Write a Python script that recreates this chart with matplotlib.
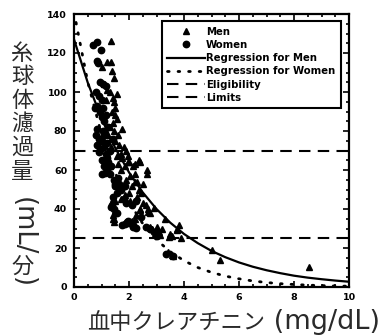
import matplotlib
matplotlib.use("Agg")
import matplotlib.pyplot as plt
from matplotlib.ticker import MultipleLocator

# ---------------- data ----------------
men_x = [1.33, 1.19, 1.33, 1.37, 1.47, 1.00, 1.55, 1.45, 1.50, 1.38, 1.20, 1.30, 1.10,
         1.50, 1.55, 1.76, 1.40, 1.30, 1.45, 1.60, 1.20, 1.35, 1.50, 1.65, 1.80, 1.90,
         1.70, 1.96, 2.00, 2.36, 2.20, 2.64, 2.66, 2.20, 1.85, 1.60, 1.70, 2.05, 2.30,
         2.10, 2.45, 2.30, 2.50, 2.60, 2.70, 2.75, 2.90, 2.40, 2.25, 2.20, 2.10, 1.85,
         1.70, 1.40, 1.50, 1.45, 1.45, 1.50, 3.00, 2.85, 3.10, 2.95, 3.20, 3.30, 3.50,
         3.45, 3.55, 3.75, 3.80, 3.75, 3.90, 3.40, 3.55, 3.60, 5.00, 5.30, 8.55, 2.05,
         2.35, 1.90, 2.50, 2.15, 1.75, 2.00, 1.60, 1.30, 1.55, 1.25, 1.35, 1.98, 2.40,
         2.22, 2.40, 2.70, 2.76, 3.13, 1.43, 1.43, 1.15, 1.40]
men_y = [126, 115.5, 115.5, 111, 107, 113, 99, 95, 92, 90, 101, 100, 104,
         88, 86, 81, 84, 82, 80, 78, 78, 76, 75, 73, 72, 70,
         68, 67, 64, 65, 63, 60, 58, 58, 62, 63, 60, 57, 54,
         52, 48, 46, 43, 42, 40, 38, 40.5, 40, 37, 35, 34, 47,
         45, 45, 44, 35, 33.5, 39, 31, 30, 28, 27, 30, 35, 27,
         25.5, 26, 30, 32, 29, 25, 18, 16.5, 16, 19, 14, 10.5, 44,
         50, 55, 53, 62, 66, 48, 52, 62, 67, 70, 72, 64, 64,
         54, 39.5, 38.6, 31, 26.7, 35, 37, 96, 97]

women_x = [0.68, 0.85, 0.97, 0.82, 0.88, 0.95, 1.05, 1.15, 0.80, 0.90, 1.00, 0.85, 0.75,
           0.95, 1.00, 1.10, 0.85, 0.80, 0.90, 0.85, 0.95, 0.90, 1.00, 1.05, 1.10, 1.20,
           1.15, 1.20, 1.25, 1.10, 1.35, 1.30, 1.00, 1.45, 1.50, 1.65, 1.70, 1.55, 1.40,
           1.80, 1.90, 1.35, 1.45, 1.55, 1.75, 1.85, 2.00, 2.15, 2.25, 1.95, 2.10, 2.25,
           2.60, 2.75, 2.90, 3.00, 3.60, 3.35, 1.60, 1.20, 1.30, 1.10, 1.25, 1.40, 1.00,
           1.15, 1.05, 1.13, 1.49, 1.37, 1.85, 1.92, 2.16, 2.45]
women_y = [124, 125.8, 121.5, 116, 114.7, 105, 104, 103, 100, 98, 96, 93, 92,
           90, 87, 85, 81, 78, 76, 73, 71, 69, 75, 80, 72, 74,
           68, 66, 64, 62, 62, 58, 58, 55, 52, 53, 50, 48, 46,
           45, 43, 41, 40, 38, 32, 32.5, 33, 31, 30.5, 34, 42, 44,
           31, 30, 28, 26, 16, 17, 56, 60, 70, 78, 82, 76, 65,
           88, 92, 58.3, 53, 42, 52, 33.5, 31.8, 36]

# regression curves, values every 0.5 mg/dL
curve_x = [0, 0.5, 1, 1.5, 2, 2.5, 3, 3.5, 4, 4.5, 5, 5.5, 6, 6.5, 7, 7.5, 8, 8.5, 9, 9.5, 10]
reg_men_y = [127, 104.8, 86.4, 71.3, 58.8, 48.5, 40.0, 33.0, 27.2, 22.5, 18.5, 15.3, 12.6,
             10.4, 8.6, 7.1, 5.8, 4.8, 4.0, 3.3, 2.7]
reg_women_y = [141, 105.1, 78.4, 58.5, 43.6, 32.5, 24.2, 18.1, 13.5, 10.0, 7.5, 5.6, 4.2,
               3.1, 2.3, 1.7, 1.3, 0.96, 0.72, 0.53, 0.40]

eligibility = 70
limits = 25

x_ticks = [0, 2, 4, 6, 8, 10]
y_ticks = [0, 20, 40, 60, 80, 100, 120, 140]

# ---------------- figure ----------------
W, H = 389, 336
fig = plt.figure(figsize=(W / 100, H / 100), dpi=100)
ax = fig.add_axes([74 / W, 1 - 287 / H, (349 - 74) / W, (287 - 14) / H])

ax.plot(men_x, men_y, linestyle="none", marker="^", ms=4.6, color="black", label="Men", zorder=3)
ax.plot(women_x, women_y, linestyle="none", marker="o", ms=4.6, color="black", label="Women", zorder=3)
ax.plot(curve_x, reg_men_y, color="black", lw=1.6, label="Regression for Men", zorder=2)
ax.plot(curve_x, reg_women_y, color="black", lw=2.0, linestyle=(0, (0.6, 3.2)),
        dash_capstyle="round", label="Regression for Women", zorder=2)
ax.axhline(eligibility, color="black", lw=1.5, linestyle=(0, (5.5, 3.5)), label="Eligibility", zorder=1)
ax.axhline(limits, color="black", lw=1.5, linestyle=(0, (5.5, 3.5)), label="Limits", zorder=1)

ax.set_xlim(0, 10)
ax.set_ylim(0, 140)
ax.set_xticks(x_ticks)
ax.set_yticks(y_ticks)
ax.xaxis.set_minor_locator(MultipleLocator(0.5))
ax.yaxis.set_minor_locator(MultipleLocator(5))
ax.tick_params(which="both", direction="in", top=True, right=True, width=1.2, color="black")
ax.tick_params(which="major", length=4)
ax.tick_params(which="minor", length=2.5)
ax.tick_params(axis="x", pad=4)
ax.tick_params(axis="y", pad=5)
for lab in ax.get_xticklabels() + ax.get_yticklabels():
    lab.set_fontfamily("DejaVu Sans")
    lab.set_fontweight("bold")
    lab.set_fontsize(6.8)
for sp in ax.spines.values():
    sp.set_linewidth(1.6)

leg = ax.legend(loc="upper right", bbox_to_anchor=((341 - 74) / 275, (287 - 21) / 273),
                borderaxespad=0, fancybox=False, framealpha=1, edgecolor="black",
                handlelength=3.7, handletextpad=0.15, labelspacing=0.32, borderpad=0.55,
                prop={"family": "DejaVu Sans", "weight": "bold", "size": 7.3})
leg.get_frame().set_linewidth(1.5)

# ---------------- axis titles ----------------
txt_color = "#2a2a2a"
cjk = ["Noto Sans CJK JP", "DejaVu Sans"]
xl = fig.text(87 / W, 1 - 329 / H, "血中クレアチニン", family=cjk, fontsize=16,
              color=txt_color, ha="left", va="baseline")
ax.annotate(" (mg/dL)", xy=(1, 1 - 329 / H), xycoords=(xl, "figure fraction"),
            ha="left", va="baseline", family="DejaVu Sans", fontsize=19.5, color=txt_color,
            annotation_clip=False)

ycx = 22.5 / W
for ch, yc in zip("糸球体濾過量", [53, 76, 100, 123, 147, 171]):
    fig.text(ycx, 1 - yc / H, ch, family=cjk, fontsize=16, color=txt_color,
             ha="center", va="center")
fig.text(ycx, 1 - 226 / H, "(mL/", family="DejaVu Sans", fontsize=18.5, color=txt_color,
         rotation=-90, ha="center", va="center")
fig.text(ycx, 1 - 266 / H, "分", family=cjk, fontsize=16, color=txt_color,
         ha="center", va="center")
fig.text(ycx, 1 - 282 / H, ")", family="DejaVu Sans", fontsize=18.5, color=txt_color,
         rotation=-90, ha="center", va="center")

fig.savefig("out.png", dpi=100)
